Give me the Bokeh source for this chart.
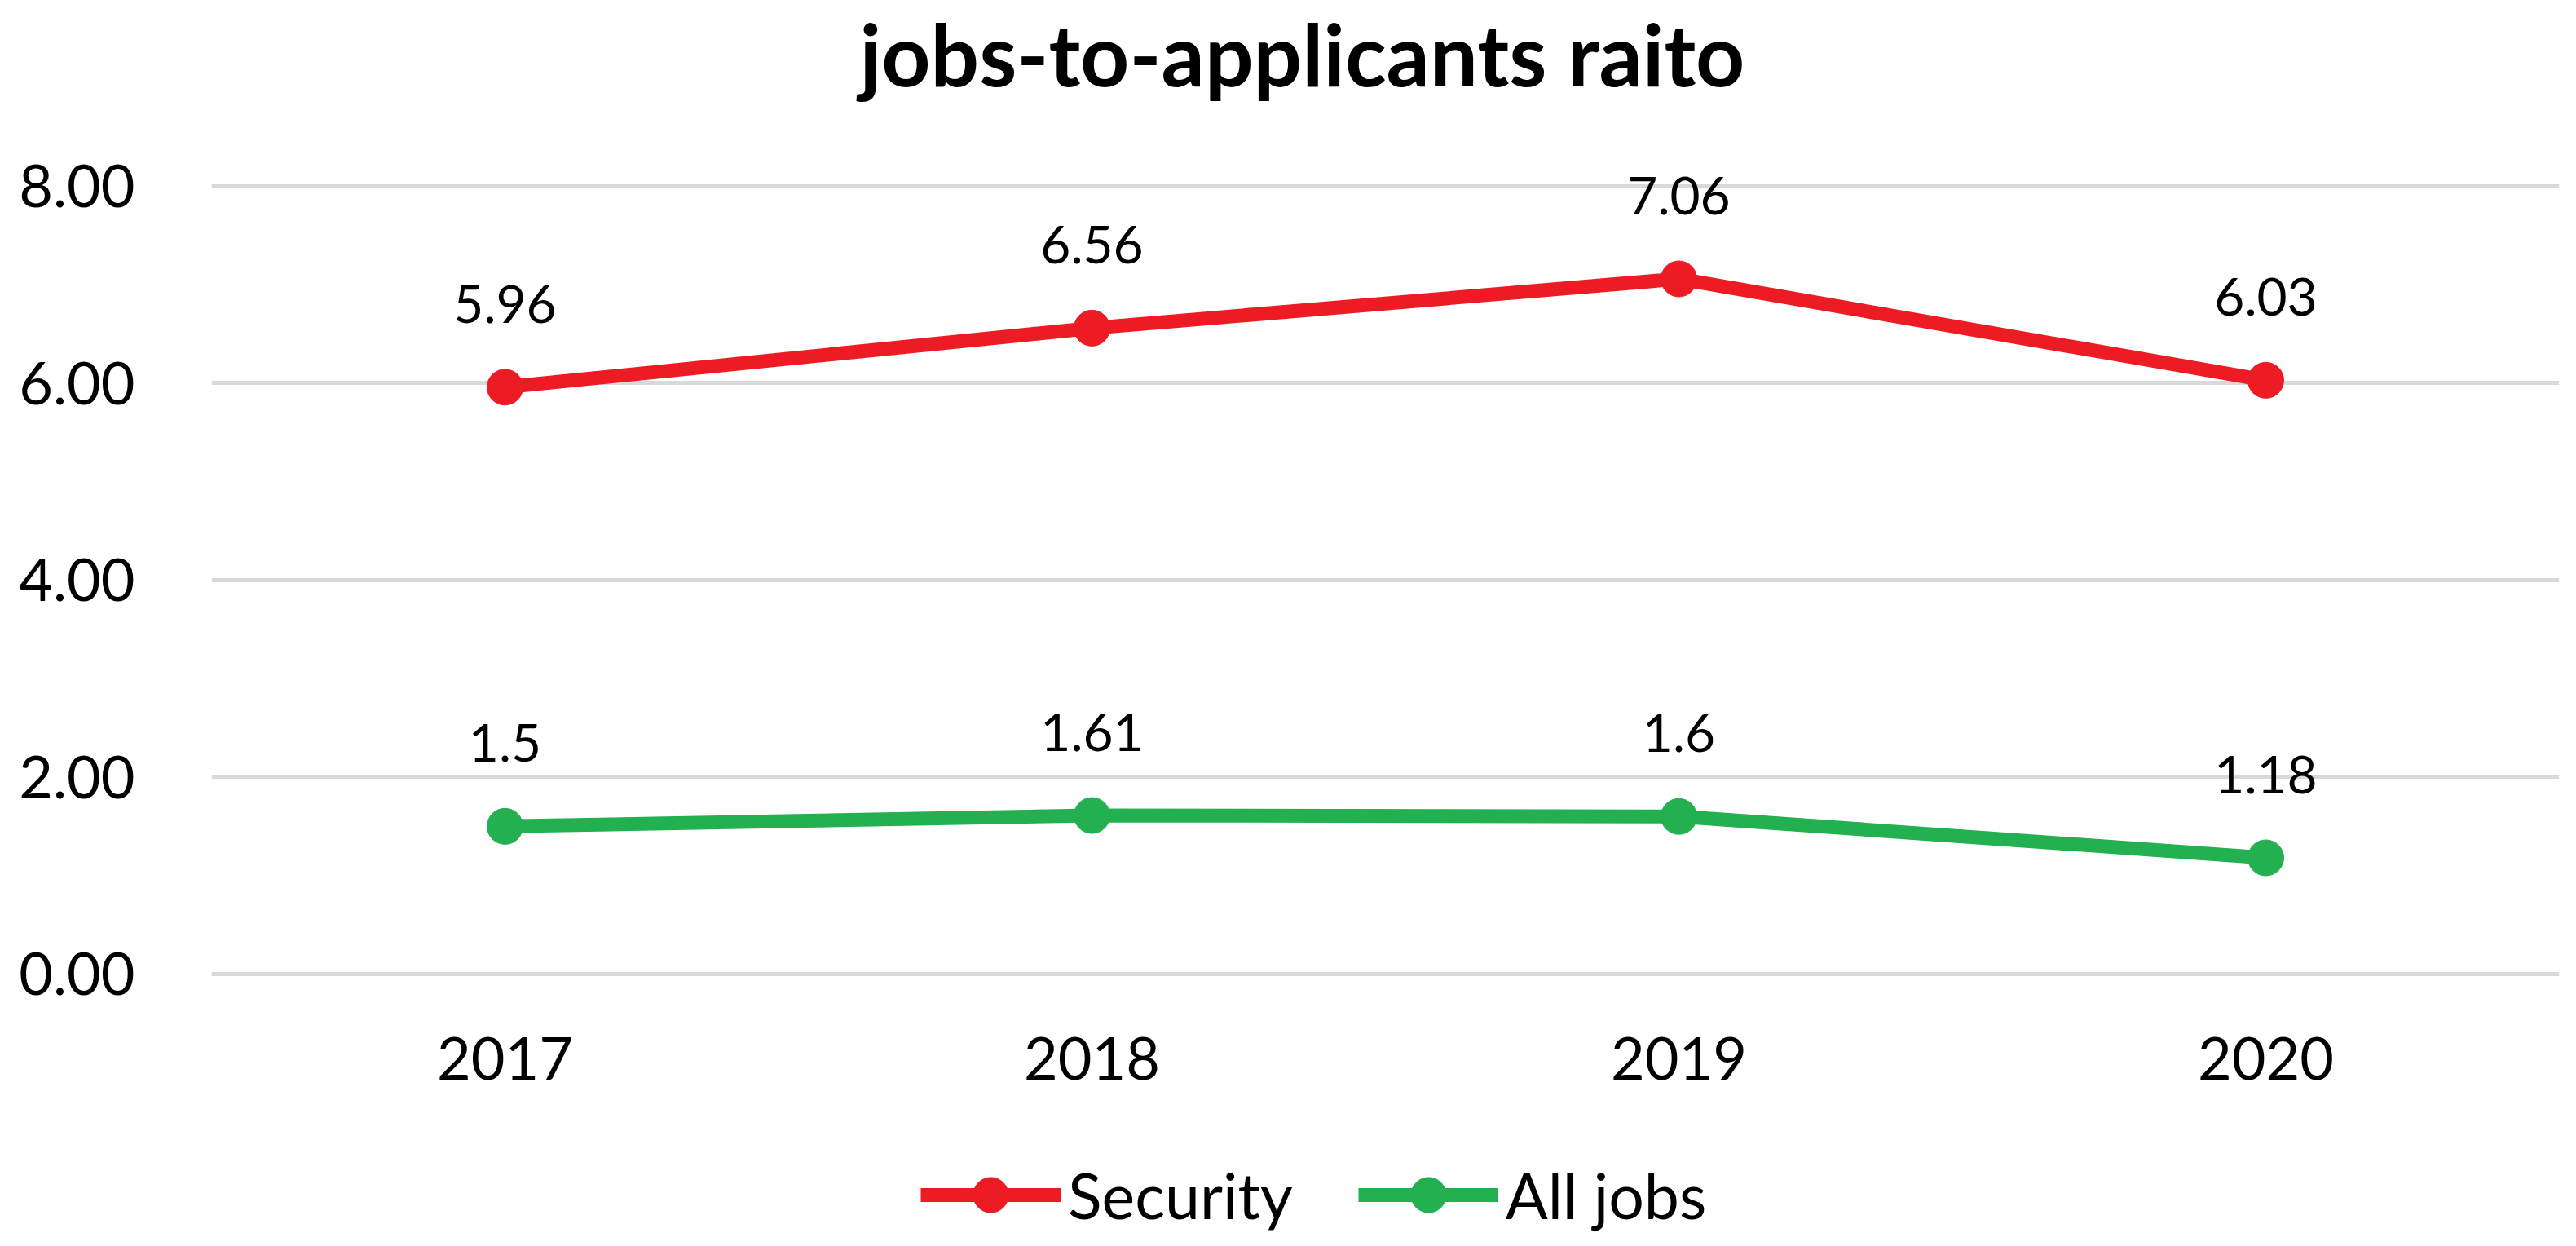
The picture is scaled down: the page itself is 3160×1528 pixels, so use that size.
from bokeh.plotting import figure
from bokeh.models import (Range1d, FactorRange, FixedTicker, PrintfTickFormatter,
                          Legend, LegendItem, Label)
from bokeh.embed import file_html
from bokeh.resources import INLINE
from bokeh.core.properties import value

# ---- data ----
years = ["2017", "2018", "2019", "2020"]
security = [5.96, 6.56, 7.06, 6.03]
all_jobs = [1.5, 1.61, 1.6, 1.18]
security_labels = ["5.96", "6.56", "7.06", "6.03"]
all_jobs_labels = ["1.5", "1.61", "1.6", "1.18"]
y_ticks = [0, 2, 4, 6, 8]
title_text = "jobs-to-applicants raito"
series_names = ["Security", "All jobs"]

RED = "#ED1C24"
GREEN = "#23B050"
FONT = "Lato"

# the plotting frame spans the full height; the empty bands above and below the
# gridded area hold the title, the category labels and the legend
p = figure(width=3144, height=1512,
           x_range=FactorRange(*years), y_range=Range1d(-2.634, 9.888),
           output_backend="svg", toolbar_location=None,
           min_border_left=259, min_border_right=5,
           min_border_top=0, min_border_bottom=0)

p.outline_line_color = None
p.background_fill_color = "white"
p.border_fill_color = "white"

# title
p.add_layout(Label(x=1338, y=1448, x_units="screen", y_units="screen",
                   text=title_text, text_align="center", text_baseline="alphabetic",
                   text_font=FONT, text_font_style="bold", text_font_size="105px",
                   text_color="black"))

# axes
p.xaxis.fixed_location = -0.06
p.xaxis.axis_line_color = None
p.xaxis.major_tick_line_color = None
p.xaxis.minor_tick_line_color = None
p.xaxis.major_label_text_font = FONT
p.xaxis.major_label_text_font_size = "72px"
p.xaxis.major_label_text_color = "black"
p.xaxis.major_label_standoff = 64

p.yaxis.ticker = FixedTicker(ticks=y_ticks)
p.yaxis.formatter = PrintfTickFormatter(format="%.2f")
p.yaxis.axis_line_color = None
p.yaxis.major_tick_line_color = None
p.yaxis.minor_tick_line_color = None
p.yaxis.major_label_text_font = FONT
p.yaxis.major_label_text_font_size = "72px"
p.yaxis.major_label_text_color = "black"
p.yaxis.major_label_standoff = 88

p.xgrid.grid_line_color = None
p.ygrid.ticker = FixedTicker(ticks=y_ticks)
p.ygrid.grid_line_color = "#D9D9D9"
p.ygrid.grid_line_width = 5

# series
l1 = p.line(years, security, line_color=RED, line_width=17)
s1 = p.scatter(years, security, size=44, fill_color=RED, line_color=RED)
l2 = p.line(years, all_jobs, line_color=GREEN, line_width=17)
s2 = p.scatter(years, all_jobs, size=44, fill_color=GREEN, line_color=GREEN)

# data labels
for ys, labs in ((security, security_labels), (all_jobs, all_jobs_labels)):
    p.text(x=years, y=ys, text=labs, text_align="center", text_baseline="alphabetic",
           y_offset=-102, text_font=value(FONT), text_font_size="64px", text_color="black")

legend = Legend(items=[LegendItem(label=series_names[0], renderers=[l1, s1]),
                       LegendItem(label=series_names[1], renderers=[l2, s2])],
                orientation="horizontal", location=(870, -7),
                padding=0, margin=0, spacing=80, label_standoff=9,
                glyph_width=172, glyph_height=108,
                border_line_color=None, background_fill_alpha=0,
                label_text_font=FONT, label_text_font_size="77px",
                label_text_color="black")
p.add_layout(legend)

open("out.html", "w").write(file_html(p, INLINE))
